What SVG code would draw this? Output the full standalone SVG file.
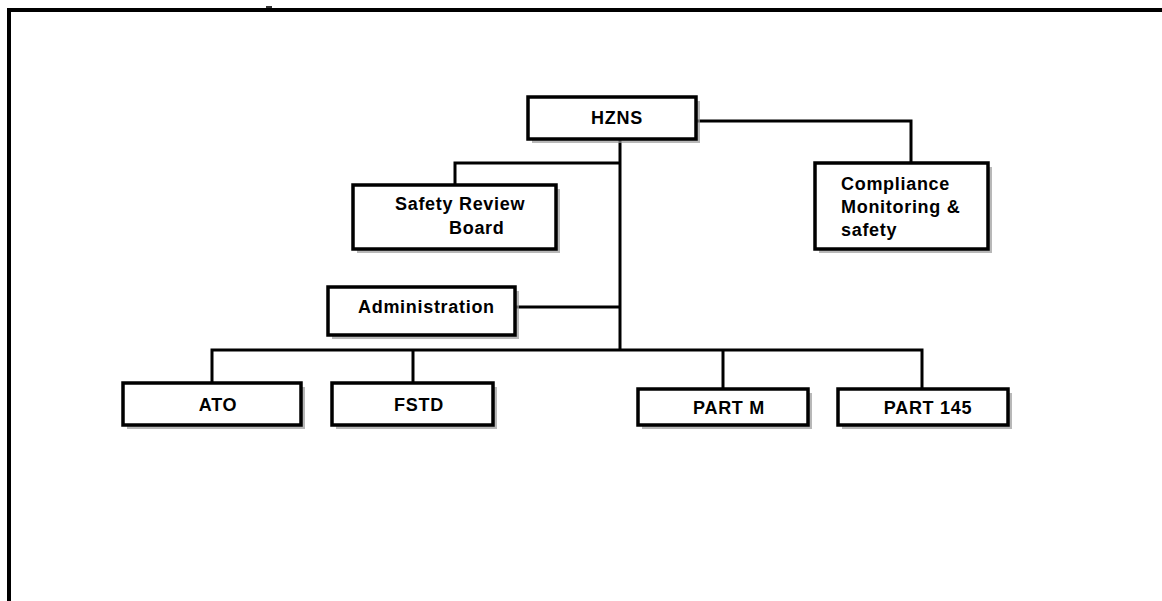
<svg xmlns="http://www.w3.org/2000/svg" width="1162" height="601" viewBox="0 0 1162 601">
<style>
.box{fill:#fff;stroke:#000;stroke-width:3.5}
.sh{fill:#9a9a9a;opacity:.7}
.c{fill:none;stroke:#000;stroke-width:3}
text{font-family:"Liberation Sans",Arial,sans-serif;font-weight:bold;font-size:18px;letter-spacing:0.7px;fill:#000}
</style>
<rect width="1162" height="601" fill="#fff"/>
<path d="M9,601 V10 H1162" fill="none" stroke="#000" stroke-width="4"/>
<line x1="266" y1="7" x2="272" y2="7" stroke="#333" stroke-width="2"/>
<g id="connectors">
<path class="c" d="M620,139 V351"/>
<path class="c" d="M620,163 H455 V185"/>
<path class="c" d="M696,121 H911 V163"/>
<path class="c" d="M515,307 H620"/>
<path class="c" d="M212,383 V350 H922 V389"/>
<path class="c" d="M413,350 V383"/>
<path class="c" d="M723,350 V389"/>
</g>
<g id="hzns">
<rect class="sh" x="532" y="101" width="168" height="42"/>
<rect class="box" x="528" y="97" width="168" height="42"/>
<text x="617" y="124" text-anchor="middle">HZNS</text>
</g>
<g id="srb">
<rect class="sh" x="357" y="189" width="203" height="64"/>
<rect class="box" x="353" y="185" width="203" height="64"/>
<text x="395" y="210">Safety Review</text>
<text x="449" y="234">Board</text>
</g>
<g id="compliance">
<rect class="sh" x="819" y="167" width="173" height="86"/>
<rect class="box" x="815" y="163" width="173" height="86"/>
<text x="841" y="190">Compliance</text>
<text x="841" y="213">Monitoring &amp;</text>
<text x="841" y="236">safety</text>
</g>
<g id="admin">
<rect class="sh" x="332" y="291" width="187" height="48"/>
<rect class="box" x="328" y="287" width="187" height="48"/>
<text x="358" y="313">Administration</text>
</g>
<g id="ato">
<rect class="sh" x="127" y="387" width="178" height="42"/>
<rect class="box" x="123" y="383" width="178" height="42"/>
<text x="218" y="411" text-anchor="middle">ATO</text>
</g>
<g id="fstd">
<rect class="sh" x="336" y="387" width="161" height="42"/>
<rect class="box" x="332" y="383" width="161" height="42"/>
<text x="419" y="411" text-anchor="middle">FSTD</text>
</g>
<g id="partm">
<rect class="sh" x="642" y="393" width="170" height="36"/>
<rect class="box" x="638" y="389" width="170" height="36"/>
<text x="729" y="414" text-anchor="middle">PART M</text>
</g>
<g id="part145">
<rect class="sh" x="842" y="393" width="170" height="36"/>
<rect class="box" x="838" y="389" width="170" height="36"/>
<text x="928" y="414" text-anchor="middle">PART 145</text>
</g>
</svg>
